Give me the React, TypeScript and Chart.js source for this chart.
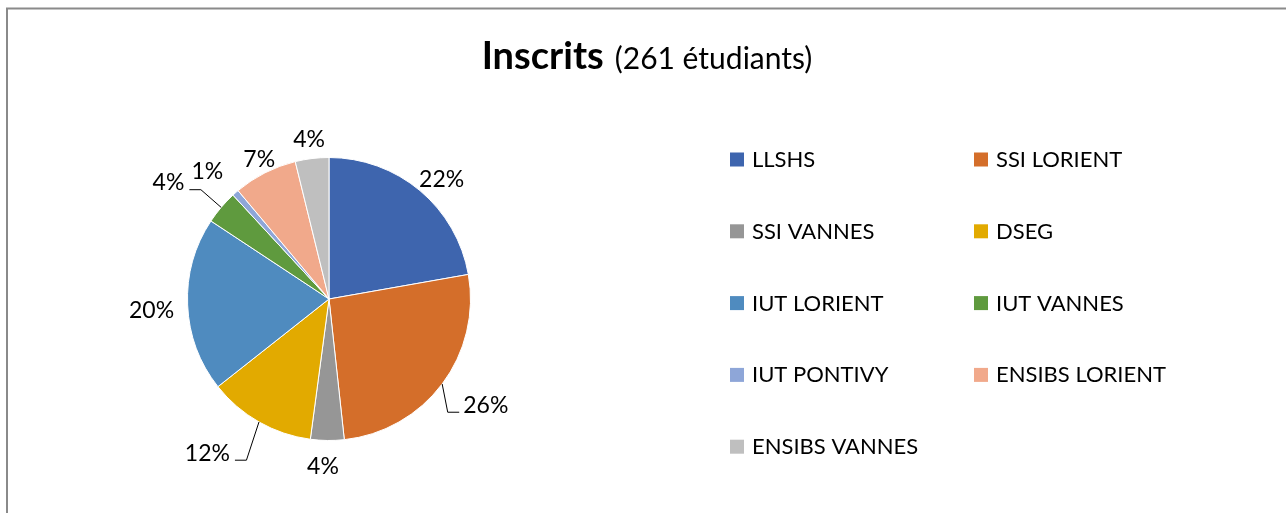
import React, { useEffect, useRef } from "react";
import { Chart, registerables } from "chart.js";
Chart.register(...registerables);

const categories = [
  "LLSHS",
  "SSI LORIENT",
  "SSI VANNES",
  "DSEG",
  "IUT LORIENT",
  "IUT VANNES",
  "IUT PONTIVY",
  "ENSIBS LORIENT",
  "ENSIBS VANNES",
];
const inscrits = [58, 68, 10, 32, 52, 10, 2, 19, 10];
const colors = [
  "#3e65ae",
  "#d46e2a",
  "#969696",
  "#e2aa00",
  "#4f8bbf",
  "#5f9a3e",
  "#8ea6d8",
  "#f1a98b",
  "#bfbfbf",
];
const titleBold = "Inscrits";
const titleRest = "(261 étudiants)";

// label layout: angular shift from slice mid-angle (deg) and extra distance beyond radius (px)
const labelShift = [3, -2.9, 1.4, 8.7, -1.1, -4.3, -2, 0.5, -0.2];
const labelExtra = [23.6, 47.6, 25.1, 54.5, 36.3, 57, 35.6, 15.4, 20.2];
const hasLeader = [false, true, false, true, false, true, false, false, false];

const FONT = "Lato, 'Open Sans', sans-serif";
const W = 1286;
const H = 513;

const decorPlugin = {
  id: "decor",
  afterDraw(chart: any) {
    const ctx: CanvasRenderingContext2D = chart.ctx;
    ctx.save();
    // frame
    ctx.strokeStyle = "#8a8a8a";
    ctx.lineWidth = 2;
    ctx.beginPath();
    ctx.moveTo(7, H + 10);
    ctx.lineTo(7, 8.5);
    ctx.lineTo(W + 10, 8.5);
    ctx.stroke();

    // title
    ctx.fillStyle = "#000";
    ctx.textBaseline = "alphabetic";
    const fb = `bold 38px ${FONT}`;
    const fr = `30px ${FONT}`;
    ctx.font = fb;
    const wb = ctx.measureText(titleBold).width;
    const gap = 11;
    ctx.font = fr;
    const wr = ctx.measureText(titleRest).width;
    const tx = 647 - (wb + gap + wr) / 2;
    ctx.font = fb;
    ctx.textAlign = "left";
    ctx.fillText(titleBold, tx, 69);
    ctx.font = fr;
    ctx.fillText(titleRest, tx + wb + gap, 69);

    // data labels
    const meta = chart.getDatasetMeta(0);
    const data: number[] = chart.data.datasets[0].data;
    const total = data.reduce((a, b) => a + b, 0);
    ctx.font = `23px ${FONT}`;
    meta.data.forEach((arc: any, i: number) => {
      const p = arc.getProps(["x", "y", "startAngle", "endAngle", "outerRadius"], true);
      const mid = (p.startAngle + p.endAngle) / 2;
      const a = mid + (labelShift[i] * Math.PI) / 180;
      const d = p.outerRadius + labelExtra[i];
      const lx = p.x + Math.cos(a) * d;
      const ly = p.y + Math.sin(a) * d;
      const text = Math.round((data[i] / total) * 100) + "%";
      const tw = ctx.measureText(text).width;
      ctx.textAlign = "center";
      ctx.fillStyle = "#000";
      ctx.fillText(text, lx, ly + 8.3);
      if (hasLeader[i]) {
        const side = Math.cos(mid) > 0 ? 1 : -1;
        const endX = side > 0 ? lx - tw / 2 - 4 : lx + tw / 2 + 5;
        const lineY = ly + 7.5;
        const elbowX = endX - side * 11.5;
        const ax = p.x + Math.cos(mid) * p.outerRadius;
        const ay = p.y + Math.sin(mid) * p.outerRadius;
        ctx.strokeStyle = "#000";
        ctx.lineWidth = 1;
        ctx.beginPath();
        ctx.moveTo(ax, ay);
        ctx.lineTo(elbowX, lineY);
        ctx.lineTo(endX, lineY);
        ctx.stroke();
      }
    });

    // legend (two columns)
    const colX = [730, 974];
    const rowY0 = 167;
    const rowStep = 71.8;
    const box = 14;
    ctx.font = `22px ${FONT}`;
    ctx.textAlign = "left";
    const labels: string[] = chart.data.labels;
    const bg: string[] = chart.data.datasets[0].backgroundColor;
    labels.forEach((lab, i) => {
      const col = i % 2;
      const row = Math.floor(i / 2);
      const bx = colX[col];
      const by = rowY0 + row * rowStep;
      ctx.fillStyle = bg[i];
      ctx.fillRect(bx, by - box - 0.5, box, box);
      ctx.fillStyle = "#000";
      ctx.fillText(lab, bx + 22, by);
    });
    ctx.restore();
  },
};

export default function App() {
  const ref = useRef<HTMLCanvasElement | null>(null);
  useEffect(() => {
    if (!ref.current) return;
    const chart = new Chart(ref.current, {
      type: "pie",
      data: {
        labels: categories,
        datasets: [
          {
            data: inscrits,
            backgroundColor: colors,
            borderColor: "#ffffff",
            borderWidth: 1,
          },
        ],
      },
      options: {
        responsive: false,
        animation: false,
        devicePixelRatio: 1,
        layout: { padding: { left: 187, right: W - 471, top: 157, bottom: H - 441 } },
        plugins: {
          legend: { display: false },
          title: { display: false },
          tooltip: { enabled: false },
        },
      },
      plugins: [decorPlugin],
    });
    return () => chart.destroy();
  }, []);
  return (
    <div style={{ position: "fixed", left: 0, top: 0, width: W, height: H, background: "#fff" }}>
      <canvas ref={ref} width={W} height={H} style={{ width: W, height: H, display: "block" }} />
    </div>
  );
}
